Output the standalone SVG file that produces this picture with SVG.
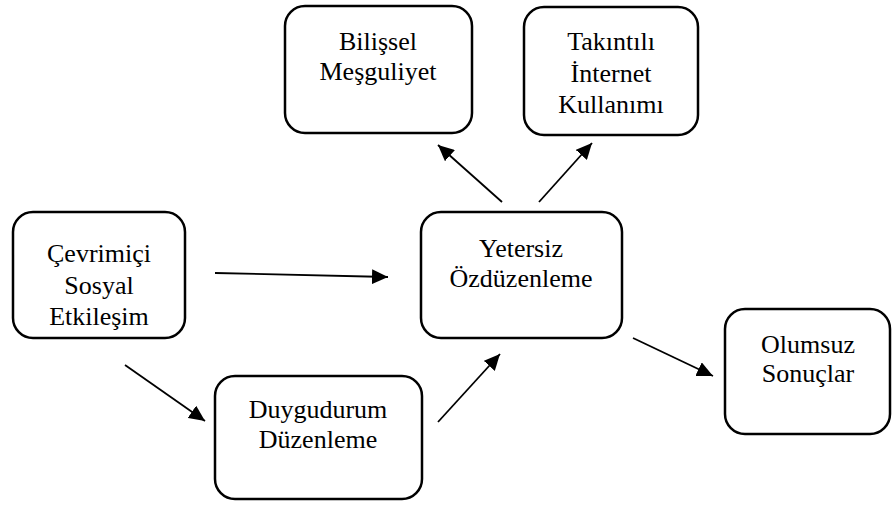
<svg xmlns="http://www.w3.org/2000/svg" width="892" height="506" viewBox="0 0 892 506">
<style>
.box{fill:#fff;stroke:#000;stroke-width:2.5}
.t{font-family:"Liberation Serif","Times New Roman",serif;font-size:26px;fill:#000;text-anchor:middle}
.c{stroke:#000;stroke-width:1.8;fill:none;marker-end:url(#ah)}
</style>
<defs>
<marker id="ah" markerUnits="userSpaceOnUse" viewBox="0 0 16 15" refX="16" refY="7.5" markerWidth="16" markerHeight="15" orient="auto">
<path d="M0,0 L16,7.5 L0,15 Z" fill="#000"/>
</marker>
</defs>
<rect width="892" height="506" fill="#fff"/>
<g id="bilissel">
<rect class="box" x="285" y="6" width="187" height="127" rx="20"/>
<text class="t" x="378" y="50">Bilişsel</text>
<text class="t" x="378" y="80">Meşguliyet</text>
</g>
<g id="takintili">
<rect class="box" x="524" y="7" width="174" height="128" rx="20"/>
<text class="t" x="611" y="50">Takıntılı</text>
<text class="t" x="611" y="81.5">İnternet</text>
<text class="t" x="611" y="113">Kullanımı</text>
</g>
<g id="cevrimici">
<rect class="box" x="13" y="212" width="172" height="126" rx="20"/>
<text class="t" x="99" y="262">Çevrimiçi</text>
<text class="t" x="99" y="294">Sosyal</text>
<text class="t" x="99" y="325">Etkileşim</text>
</g>
<g id="yetersiz">
<rect class="box" x="421" y="212" width="201" height="126" rx="20"/>
<text class="t" x="521" y="257">Yetersiz</text>
<text class="t" x="521" y="287">Özdüzenleme</text>
</g>
<g id="duygudurum">
<rect class="box" x="215" y="376" width="207" height="123" rx="20"/>
<text class="t" x="318" y="418">Duygudurum</text>
<text class="t" x="318" y="448">Düzenleme</text>
</g>
<g id="olumsuz">
<rect class="box" x="725" y="309" width="165" height="125" rx="20"/>
<text class="t" x="808" y="353">Olumsuz</text>
<text class="t" x="808" y="382">Sonuçlar</text>
</g>
<g id="connectors">
<line class="c" x1="215" y1="273" x2="388" y2="277"/>
<line class="c" x1="125" y1="365" x2="205" y2="421"/>
<line class="c" x1="438" y1="422" x2="500" y2="354"/>
<line class="c" x1="502" y1="202" x2="438" y2="145"/>
<line class="c" x1="539" y1="202" x2="592" y2="143"/>
<line class="c" x1="633" y1="338" x2="713" y2="376"/>
</g>
</svg>
